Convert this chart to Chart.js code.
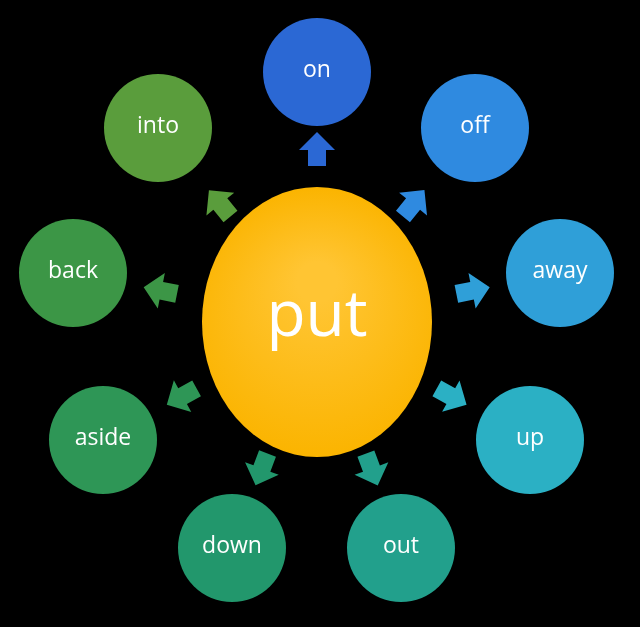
<!DOCTYPE html>
<html>
<head>
<meta charset="utf-8">
<script src="https://cdn.jsdelivr.net/npm/chart.js@4"></script>
<style>
  html, body { margin: 0; padding: 0; background: #000; }
  #wrap { width: 640px; height: 627px; }
</style>
</head>
<body>
<div id="wrap"><canvas id="c"></canvas></div>
<script>
// ── Dados ──
const centerWord = 'put';
const centerPos = { x: 317, y: 322 };
const centerRadii = { rx: 115, ry: 135 };

const particles = ['on', 'off', 'away', 'up', 'out', 'down', 'aside', 'back', 'into'];
const posX = [317, 475, 560, 530, 401, 232, 103, 73, 158];
const posY = [72, 128, 273, 440, 548, 548, 440, 273, 128];
const colors = ['#2b68d4', '#2f8ae0', '#2f9fd8', '#2bb0c4', '#22a08c', '#22976c', '#2e9656', '#3c9646', '#5a9d3c'];
const arrowT = [0.68, 0.6, 0.63, 0.62, 0.64, 0.64, 0.62, 0.63, 0.6];
const bubbleR = 54;

// ── Plugin: elipse central, setas e rótulos ──
const diagramPlugin = {
  id: 'diagram',
  afterDatasetsDraw(chart) {
    const { ctx, scales: { x, y } } = chart;
    const cx = x.getPixelForValue(centerPos.x);
    const cy = y.getPixelForValue(centerPos.y);

    // elipse central
    const g = ctx.createRadialGradient(cx, cy - 40, 20, cx, cy, centerRadii.ry);
    g.addColorStop(0, '#ffc533');
    g.addColorStop(1, '#fbb400');
    ctx.save();
    ctx.fillStyle = g;
    ctx.beginPath();
    ctx.ellipse(cx, cy, centerRadii.rx, centerRadii.ry, 0, 0, Math.PI * 2);
    ctx.fill();

    // setas
    particles.forEach((p, i) => {
      const px = x.getPixelForValue(posX[i]);
      const py = y.getPixelForValue(posY[i]);
      const ang = Math.atan2(py - cy, px - cx);
      const ax = cx + (px - cx) * arrowT[i];
      const ay = cy + (py - cy) * arrowT[i];
      ctx.save();
      ctx.translate(ax, ay);
      ctx.rotate(ang);
      ctx.fillStyle = colors[i];
      ctx.beginPath();
      ctx.moveTo(-14, -9);
      ctx.lineTo(2, -9);
      ctx.lineTo(2, -18);
      ctx.lineTo(20, 0);
      ctx.lineTo(2, 18);
      ctx.lineTo(2, 9);
      ctx.lineTo(-14, 9);
      ctx.closePath();
      ctx.fill();
      ctx.restore();
    });

    ctx.fillStyle = '#fff';
    ctx.textAlign = 'center';
    ctx.textBaseline = 'middle';
    ctx.font = '64px "Open Sans", sans-serif';
    ctx.fillText(centerWord, cx, cy - 4);

    // rótulos
    ctx.font = '23px "Open Sans", sans-serif';
    particles.forEach((p, i) => {
      ctx.fillText(p, x.getPixelForValue(posX[i]), y.getPixelForValue(posY[i]) - 2);
    });
    ctx.restore();
  }
};

new Chart(document.getElementById('c'), {
  type: 'bubble',
  data: {
    datasets: [{
      data: particles.map((p, i) => ({ x: posX[i], y: posY[i], r: bubbleR })),
      backgroundColor: colors,
      borderWidth: 0,
      hoverRadius: 0,
      clip: false
    }]
  },
  options: {
    responsive: true,
    maintainAspectRatio: false,
    animation: false,
    layout: { padding: 0, autoPadding: false },
    plugins: { legend: { display: false }, tooltip: { enabled: false } },
    scales: {
      x: { type: 'linear', min: 0, max: 640, display: false },
      y: { type: 'linear', min: 0, max: 627, reverse: true, display: false }
    }
  },
  plugins: [diagramPlugin]
});
</script>
</body>
</html>
